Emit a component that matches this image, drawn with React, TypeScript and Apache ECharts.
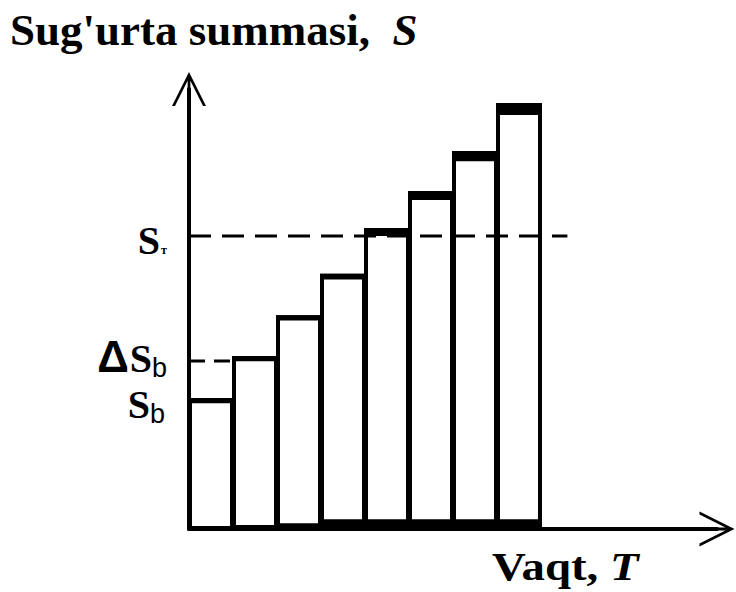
import React, { useEffect, useRef } from "react";
import * as echarts from "echarts";

// Bar heights (arbitrary units, 0..100 on the S axis)
const periods = [0, 1, 2, 3, 4, 5, 6, 7];
const sumValues = [29.8, 39.3, 48.6, 58.0, 68.4, 76.8, 85.9, 96.8];
// thickness of the black cap on each bar (same units)
const capValues = [1.2, 1.2, 1.2, 1.3, 1.8, 2.0, 2.3, 2.7];
// thickness of the black base of each bar (same units)
const baseValues = [0.7, 0.9, 1.3, 2.2, 2.2, 2.2, 2.2, 2.2];

const S_B = 29.5; // base sum
const DELTA_SB = 38.2; // ΔSb level
const S_T = 66.6; // target sum
const ST_LINE_END = 8.6;

const yMax = 100;
const xMax = 12;

const SERIF = "'Liberation Serif', 'Times New Roman', serif";
const SANS = "'Liberation Sans', Arial, sans-serif";

// chevron arrow with a shaft, pointing up (rotated by ECharts per axis)
const ARROW =
  "path://M20 0 L40 40 L36.5 40 L20 7 L3.5 40 L0 40 Z M18.4 3 L21.6 3 L21.6 40 L18.4 40 Z";

const labelRich: any = {
  s: { fontFamily: SERIF, fontWeight: "bold", fontSize: 40, color: "#000", verticalAlign: "bottom" },
  b: { fontFamily: SANS, fontWeight: "normal", fontSize: 27, color: "#000", verticalAlign: "bottom", padding: [0, 0, -3, 0] },
  t: { fontFamily: SERIF, fontWeight: "bold", fontSize: 12, color: "#000", verticalAlign: "bottom", padding: [0, 0, 4, 1] },
  d: { fontFamily: SANS, fontWeight: "bold", fontSize: 44, color: "#000", verticalAlign: "bottom", padding: [0, 1, 0, 0] },
};

export default function App() {
  const ref = useRef<HTMLDivElement>(null);

  useEffect(() => {
    document.body.style.margin = "0";
    if (!ref.current) return;
    const chart = echarts.init(ref.current, null, { renderer: "svg" });

    const barData = periods.map((p, i) => [p, sumValues[i], capValues[i], baseValues[i]]);

    // label anchors, nudged so the glyphs sit where the reference has them
    const stLabelAt = S_T - 1.0;
    const dsbLabelAt = DELTA_SB + 0.9;
    const sbLabelAt = S_B - 1.2;

    const hiddenAxisParts = {
      axisTick: { show: false },
      splitLine: { show: false },
    };

    chart.setOption({
      animation: false,
      backgroundColor: "#ffffff",
      title: {
        text: "{a|Sug'urta summasi,  }{b|S}",
        left: 5,
        top: 2,
        textStyle: {
          fontFamily: SERIF,
          fontWeight: "bold",
          fontSize: 45,
          rich: {
            a: { fontFamily: SERIF, fontWeight: "bold", fontSize: 45, color: "#000" },
            b: { fontFamily: SERIF, fontWeight: "bold", fontStyle: "italic", fontSize: 45, color: "#000" },
          },
        },
      },
      grid: { left: 189, right: 19, top: 89, bottom: 63 },
      xAxis: {
        type: "value",
        min: 0,
        max: xMax,
        axisLine: {
          show: true,
          symbol: ["none", ARROW],
          symbolSize: [35, 38],
          lineStyle: { color: "#000", width: 4 },
        },
        axisLabel: { show: false },
        ...hiddenAxisParts,
      },
      yAxis: [
        {
          type: "value",
          min: 0,
          max: yMax,
          axisLine: {
            show: true,
            symbol: ["none", ARROW],
            symbolSize: [34, 38],
            lineStyle: { color: "#000", width: 4 },
          },
          ...hiddenAxisParts,
          axisLabel: {
            show: true,
            customValues: [dsbLabelAt, stLabelAt],
            margin: 22,
            formatter: (v: number) => (v === stLabelAt ? "{s|S}{t|т}" : "{d|Δ}{s|S}{b|b}"),
            rich: labelRich,
          },
        },
        {
          type: "value",
          min: 0,
          max: yMax,
          position: "left",
          axisLine: { show: false },
          ...hiddenAxisParts,
          axisLabel: {
            show: true,
            customValues: [sbLabelAt],
            margin: 24,
            formatter: () => "{s|S}{b|b}",
            rich: labelRich,
          },
        },
      ],
      graphic: [
        {
          type: "text",
          x: 492,
          y: 547,
          scaleX: 1.2,
          style: {
            text: "{a|Vaqt, }{b|T}",
            rich: {
              a: { fontFamily: SERIF, fontWeight: "bold", fontSize: 39, fill: "#000" },
              b: { fontFamily: SERIF, fontWeight: "bold", fontStyle: "italic", fontSize: 39, fill: "#000" },
            },
          },
        },
      ],
      series: [
        {
          type: "custom",
          data: barData,
          encode: { x: 0, y: 1 },
          z: 2,
          renderItem: (params: any, api: any) => {
            const i = api.value(0);
            const v = api.value(1);
            const cap = api.value(2);
            const base = api.value(3);
            const p0 = api.coord([i, 0]);
            const p1 = api.coord([i + 1, v]);
            const pc = api.coord([i, v - cap]);
            const pb = api.coord([i, base]);
            const w = p1[0] - p0[0];
            return {
              type: "group",
              children: [
                {
                  type: "rect",
                  shape: { x: p0[0] + 1, y: p1[1] + 2, width: w - 2, height: p0[1] - p1[1] - 2 },
                  style: { fill: "#fff", stroke: "#000", lineWidth: 4 },
                },
                {
                  type: "rect",
                  shape: { x: p0[0] - 1, y: p1[1], width: w + 1, height: pc[1] - p1[1] },
                  style: { fill: "#000" },
                },
                {
                  type: "rect",
                  shape: { x: p0[0] - 1, y: pb[1], width: w + 1, height: p0[1] + 2 - pb[1] },
                  style: { fill: "#000" },
                },
              ],
            };
          },
        },
        {
          type: "line",
          data: [
            [0, S_T],
            [ST_LINE_END, S_T],
          ],
          symbol: "none",
          z: 5,
          lineStyle: { color: "#000", width: 3, type: [22, 11] },
        },
        {
          type: "line",
          data: [
            [0, DELTA_SB],
            [1, DELTA_SB],
          ],
          symbol: "none",
          z: 5,
          lineStyle: { color: "#000", width: 3, type: [16, 9] },
        },
      ],
    });

    return () => chart.dispose();
  }, []);

  return <div ref={ref} style={{ width: 736, height: 592 }} />;
}
